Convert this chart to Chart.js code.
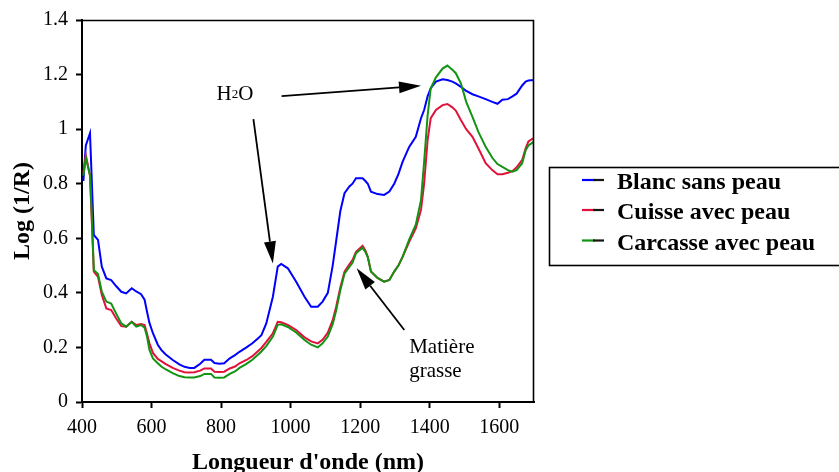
<!DOCTYPE html>
<html><head><meta charset="utf-8">
<script src="https://cdn.jsdelivr.net/npm/chart.js@4/dist/chart.umd.min.js"></script>
<style>html,body{margin:0;padding:0;background:#fff;}#wrap{width:839px;height:472px;position:relative;}</style>
</head><body><div id="wrap"><canvas id="c" width="839" height="472"></canvas></div>
<script>
const wavelengths = [404,411,423,427,434,446,457,470,484,498,513,527,543,556,570,580,587,594,604,618,628,640,661,680,695,710,723,740,752,771,781,795,809,825,840,853,873,890,905,916,930,949,963,973,992,1016,1040,1059,1078,1092,1107,1121,1131,1143,1155,1169,1178,1188,1207,1215,1222,1231,1250,1269,1284,1298,1310,1322,1341,1360,1375,1384,1394,1403,1418,1437,1451,1465,1475,1490,1505,1523,1540,1561,1580,1595,1609,1625,1638,1650,1666,1676,1684,1700];
const blancSansPeau = [0.81,0.94,0.985,0.85,0.612,0.594,0.496,0.453,0.447,0.425,0.404,0.398,0.417,0.405,0.395,0.375,0.331,0.29,0.252,0.21,0.191,0.175,0.154,0.138,0.129,0.125,0.125,0.14,0.155,0.155,0.143,0.14,0.142,0.16,0.172,0.184,0.2,0.215,0.232,0.245,0.288,0.386,0.496,0.506,0.49,0.441,0.386,0.349,0.349,0.368,0.4,0.5,0.59,0.7,0.765,0.79,0.8,0.82,0.82,0.81,0.8,0.771,0.762,0.759,0.771,0.8,0.835,0.88,0.935,0.972,1.04,1.07,1.12,1.15,1.174,1.183,1.18,1.174,1.168,1.155,1.14,1.128,1.12,1.11,1.1,1.093,1.108,1.11,1.12,1.13,1.16,1.174,1.178,1.18];
const cuisseAvecPeau = [0.84,0.905,0.83,0.7,0.478,0.459,0.392,0.343,0.337,0.307,0.278,0.276,0.294,0.282,0.286,0.282,0.25,0.215,0.18,0.158,0.15,0.14,0.125,0.115,0.109,0.108,0.109,0.115,0.123,0.123,0.111,0.11,0.111,0.123,0.13,0.142,0.154,0.168,0.185,0.198,0.22,0.252,0.294,0.292,0.283,0.264,0.237,0.222,0.215,0.228,0.254,0.3,0.349,0.42,0.478,0.505,0.52,0.55,0.572,0.555,0.532,0.478,0.455,0.441,0.447,0.478,0.5,0.532,0.587,0.636,0.704,0.8,0.96,1.04,1.07,1.088,1.092,1.08,1.068,1.033,1.0,0.972,0.93,0.875,0.85,0.835,0.835,0.84,0.846,0.86,0.887,0.93,0.955,0.968];
const carcasseAvecPeau = [0.83,0.895,0.83,0.72,0.484,0.469,0.404,0.368,0.361,0.325,0.288,0.276,0.294,0.276,0.282,0.272,0.24,0.191,0.16,0.142,0.13,0.12,0.106,0.095,0.091,0.09,0.09,0.095,0.103,0.103,0.09,0.089,0.09,0.103,0.112,0.125,0.14,0.155,0.172,0.185,0.205,0.24,0.283,0.285,0.275,0.255,0.227,0.21,0.2,0.215,0.24,0.285,0.335,0.41,0.47,0.495,0.51,0.545,0.565,0.55,0.53,0.478,0.455,0.441,0.447,0.478,0.5,0.532,0.595,0.65,0.74,0.88,1.05,1.15,1.19,1.222,1.233,1.218,1.205,1.167,1.1,1.045,0.99,0.935,0.895,0.872,0.862,0.85,0.844,0.85,0.875,0.923,0.94,0.954];
const seriesNames = ['Blanc sans peau','Cuisse avec peau','Carcasse avec peau'];
const seriesColors = ['#0000ff','#e0123c','#129312'];
const xTickValues = [400,600,800,1000,1200,1400,1600];
const xTickLabels = ['400','600','800','1000','1200','1400','1600'];
const yTickValues = [0,0.2,0.4,0.6,0.8,1,1.2,1.4];
const yTickLabels = ['0','0.2','0.4','0.6','0.8','1','1.2','1.4'];
const xTitle = "Longueur d'onde (nm)";
const yTitle = 'Log (1/R)';
// annotations in data coordinates
const arrowStarts = [[974,1.121],[893,1.037],[1327,0.264]];
const arrowEnds = [[1375,1.159],[949,0.508],[1190,0.490]];
const waterLabel = ['H','2','O'];
const waterAnchor = [787,1.107];
const fatLabel = ['Matière','grasse'];
const fatAnchors = [[1341,0.2015],[1341,0.111]];

const SERIF = '"Liberation Serif","Times New Roman",serif';
function pts(vals){ return wavelengths.map((w,i)=>({x:w,y:vals[i]})); }
const seriesValues = [blancSansPeau, cuisseAvecPeau, carcasseAvecPeau];

function arrow(ctx, x0,y0,x1,y1){
  const ang = Math.atan2(y1-y0, x1-x0);
  const L = 22, W = 6;
  const bx = x1 - L*Math.cos(ang), by = y1 - L*Math.sin(ang);
  ctx.beginPath(); ctx.moveTo(x0,y0); ctx.lineTo(bx,by); ctx.stroke();
  ctx.beginPath();
  ctx.moveTo(x1,y1);
  ctx.lineTo(bx + W*Math.sin(ang), by - W*Math.cos(ang));
  ctx.lineTo(bx - W*Math.sin(ang), by + W*Math.cos(ang));
  ctx.closePath(); ctx.fill();
}

const decor = {
  id:'decor',
  afterDraw(chart){
    const {ctx, chartArea:a, scales} = chart;
    const sx = scales.x, sy = scales.y;
    ctx.save();
    ctx.strokeStyle='#000'; ctx.fillStyle='#000'; ctx.lineWidth=1.6;
    ctx.beginPath(); ctx.moveTo(a.left, a.top+0.5); ctx.lineTo(a.right-0.5, a.top+0.5); ctx.lineTo(a.right-0.5, a.bottom); ctx.stroke();
    // legend box
    ctx.lineWidth=1.6;
    ctx.strokeRect(549.5,167.5,300,98);
    const rowsY=[180,210,240.5];
    ctx.font='bold 24px '+SERIF; ctx.textBaseline='middle'; ctx.textAlign='left';
    chart.data.datasets.forEach((ds,i)=>{
      const yy=rowsY[i];
      ctx.lineWidth=2.2;
      ctx.strokeStyle=ds.borderColor; ctx.beginPath(); ctx.moveTo(582,yy); ctx.lineTo(595,yy); ctx.stroke();
      ctx.strokeStyle='#151515'; ctx.beginPath(); ctx.moveTo(593,yy); ctx.lineTo(604,yy); ctx.stroke();
      ctx.fillStyle='#000'; ctx.fillText(ds.label, 617, yy+3);
    });
    // arrows
    ctx.strokeStyle='#000'; ctx.fillStyle='#000'; ctx.lineWidth=1.8;
    arrowStarts.forEach((s,i)=>{
      const e=arrowEnds[i];
      arrow(ctx, sx.getPixelForValue(s[0]), sy.getPixelForValue(s[1]), sx.getPixelForValue(e[0]), sy.getPixelForValue(e[1]));
    });
    // H2O label
    ctx.textBaseline='alphabetic';
    let px = sx.getPixelForValue(waterAnchor[0]), py = sy.getPixelForValue(waterAnchor[1]);
    ctx.font='21px '+SERIF; ctx.fillText(waterLabel[0], px, py); px += ctx.measureText(waterLabel[0]).width;
    ctx.font='13px '+SERIF; ctx.fillText(waterLabel[1], px, py-2); px += ctx.measureText(waterLabel[1]).width;
    ctx.font='21px '+SERIF; ctx.fillText(waterLabel[2], px, py);
    // fat label
    ctx.textBaseline='middle';
    fatLabel.forEach((t,i)=>{
      ctx.fillText(t, sx.getPixelForValue(fatAnchors[i][0]), sy.getPixelForValue(fatAnchors[i][1]));
    });
    ctx.restore();
  }
};

new Chart(document.getElementById('c'), {
  type:'line',
  data:{ datasets: seriesNames.map((n,i)=>({
    label:n, data:pts(seriesValues[i]), borderColor:seriesColors[i], backgroundColor:seriesColors[i],
    borderWidth:2, pointRadius:0, tension:0, fill:false, order:2-i
  }))},
  options:{
    responsive:false, animation:false, devicePixelRatio:1,
    layout:{padding:{left:0,top:20,right:305,bottom:0}},
    plugins:{legend:{display:false}, tooltip:{enabled:false}},
    scales:{
      x:{ type:'linear', min:400, max:1700,
        afterBuildTicks(s){ s.ticks = xTickValues.map(v=>({value:v})); },
        afterFit(s){ s.height = 70; },
        ticks:{ callback:(v)=>xTickLabels[xTickValues.indexOf(v)], color:'#000', font:{family:SERIF,size:20}, padding:8, maxRotation:0, autoSkip:false },
        grid:{ drawOnChartArea:false, drawTicks:true, tickLength:6, tickWidth:2, tickColor:'#000' },
        border:{ display:true, color:'#000', width:2 },
        title:{ display:true, text:xTitle, color:'#000', font:{family:SERIF,size:24,weight:'bold',lineHeight:0.8}, padding:{top:0,bottom:0} }
      },
      y:{ type:'linear', min:0, max:1.4,
        afterBuildTicks(s){ s.ticks = yTickValues.map(v=>({value:v})); },
        afterFit(s){ s.width = 82; },
        ticks:{ callback:(v)=>yTickLabels[yTickValues.findIndex(t=>Math.abs(t-v)<1e-9)], color:'#000', font:{family:SERIF,size:20}, padding:8, autoSkip:false },
        grid:{ drawOnChartArea:false, drawTicks:true, tickLength:6, tickWidth:2, tickColor:'#000' },
        border:{ display:true, color:'#000', width:2 },
        title:{ display:true, text:yTitle, color:'#000', font:{family:SERIF,size:24,weight:'bold',lineHeight:0.8}, padding:{top:13,bottom:0} }
      }
    }
  },
  plugins:[decor]
});
</script></body></html>
